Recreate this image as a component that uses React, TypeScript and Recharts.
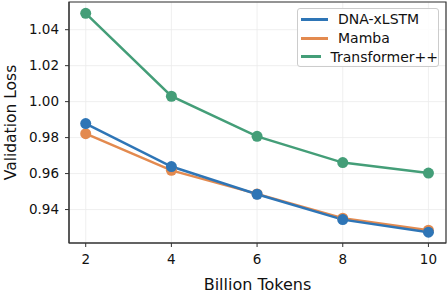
import {
  LineChart,
  Line,
  XAxis,
  YAxis,
  CartesianGrid,
  Legend,
  ReferenceArea,
} from "recharts";

const tokens = [2, 4, 6, 8, 10];
const xlstmLoss = [0.9878, 0.9639, 0.9485, 0.9344, 0.9274];
const mambaLoss = [0.9822, 0.9618, 0.9487, 0.9352, 0.9285];
const transformerLoss = [1.0491, 1.003, 0.9807, 0.9661, 0.9603];
const yTicks = [0.94, 0.96, 0.98, 1.0, 1.02, 1.04];

const series = [
  { key: "DNA-xLSTM", color: "#2e75b6" },
  { key: "Mamba", color: "#e38a4f" },
  { key: "Transformer++", color: "#449e78" },
];
// blue is drawn over orange in the original
const drawOrder = ["Mamba", "Transformer++", "DNA-xLSTM"];

const data = tokens.map((t, i) => ({
  tokens: t,
  "DNA-xLSTM": xlstmLoss[i],
  Mamba: mambaLoss[i],
  "Transformer++": transformerLoss[i],
}));

const X_DOMAIN: [number, number] = [1.61, 10.41];
const Y_DOMAIN: [number, number] = [0.9214, 1.0554];
const font = "'DejaVu Sans', sans-serif";

function LegendBox() {
  return (
    <div
      style={{
        width: 142,
        height: 59,
        border: "1px solid #cccccc",
        borderRadius: 3,
        background: "rgba(255,255,255,0.85)",
        boxSizing: "border-box",
        padding: "1px 0 0 3px",
        fontFamily: font,
        fontSize: 14,
        lineHeight: "18.8px",
        color: "#111",
      }}
    >
      {series.map((s) => (
        <div
          key={s.key}
          style={{ display: "flex", alignItems: "center", height: 18.8 }}
        >
          <div
            style={{
              width: 27,
              height: 3,
              background: s.color,
              marginRight: 10,
            }}
          />
          <span>{s.key}</span>
        </div>
      ))}
    </div>
  );
}

export default function App() {
  return (
    <div style={{ position: "absolute", left: 0, top: 0, background: "#fff" }}>
      <LineChart
        width={448}
        height={296}
        data={data}
        margin={{ top: 2, right: 2, left: 0, bottom: 0 }}
      >
        <CartesianGrid stroke="#ebebeb" strokeWidth={0.8} />
        <XAxis
          dataKey="tokens"
          type="number"
          domain={X_DOMAIN}
          ticks={tokens}
          allowDataOverflow
          height={53}
          stroke="#333"
          tickSize={4}
          tick={{ fill: "#111", fontSize: 13.5, fontFamily: font, dy: 5 }}
          label={{
            value: "Billion Tokens",
            position: "insideBottom",
            offset: 6,
            style: { fill: "#111", fontSize: 16, fontFamily: font },
          }}
        />
        <YAxis
          type="number"
          domain={Y_DOMAIN}
          ticks={yTicks}
          allowDataOverflow
          width={69}
          stroke="#333"
          tickSize={4}
          tickFormatter={(v: number) => v.toFixed(2)}
          tick={{ fill: "#111", fontSize: 13.5, fontFamily: font, dx: -4 }}
          label={{
            value: "Validation Loss",
            angle: -90,
            position: "insideLeft",
            offset: 10,
            style: {
              fill: "#111",
              fontSize: 15.5,
              fontFamily: font,
              textAnchor: "middle",
            },
          }}
        />
        <ReferenceArea
          x1={X_DOMAIN[0]}
          x2={X_DOMAIN[1]}
          y1={Y_DOMAIN[0]}
          y2={Y_DOMAIN[1]}
          fill="none"
          stroke="#333"
          strokeWidth={1.2}
        />
        {drawOrder.map((key) => {
          const s = series.find((d) => d.key === key)!;
          return (
            <Line
              key={s.key}
              dataKey={s.key}
              stroke={s.color}
              strokeWidth={2.5}
              dot={{ r: 5.5, fill: s.color, stroke: s.color, strokeWidth: 0 }}
              activeDot={false}
              isAnimationActive={false}
            />
          );
        })}
        <Legend
          layout="horizontal"
          verticalAlign="middle"
          align="center"
          content={() => <LegendBox />}
          wrapperStyle={{ top: 8, left: 297, width: 142 }}
        />
      </LineChart>
    </div>
  );
}
